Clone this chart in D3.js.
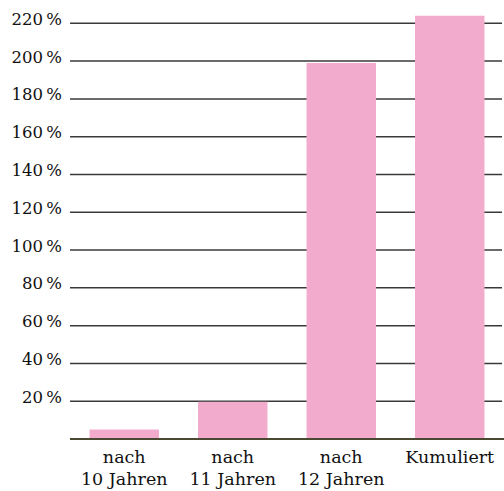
<!DOCTYPE html>
<html><head><meta charset="utf-8">
<script src="https://cdn.jsdelivr.net/npm/d3@7"></script>
<style>body{margin:0;background:#fff}svg{display:block}</style>
</head><body>
<svg id="c" width="504" height="491"></svg>
<script>
const categories = [["nach","10 Jahren"],["nach","11 Jahren"],["nach","12 Jahren"],["Kumuliert"]];
const values = [5, 19.7, 199, 224];
const tickValues = [20,40,60,80,100,120,140,160,180,200,220];
const tickLabels = tickValues.map(v => v + "\u2009%");

const svg = d3.select("#c");
const font = "'DejaVu Serif', serif";
const x = d3.scaleBand().domain(d3.range(categories.length)).range([70, 504]).paddingInner(0.36).paddingOuter(0.18);
const y = d3.scaleLinear().domain([0, 220]).range([439, 23.3]);

// gridlines
svg.append("g").selectAll("line").data(tickValues).join("line")
  .attr("x1", 70).attr("x2", 502)
  .attr("y1", d => y(d)).attr("y2", d => y(d))
  .attr("stroke", "#3a3a3a").attr("stroke-width", 1.5);

// tick labels
svg.append("g").selectAll("text").data(tickValues).join("text")
  .attr("x", 62).attr("y", d => y(d) + 1.5)
  .attr("text-anchor", "end")
  .attr("font-family", font).attr("font-size", 16.5).attr("fill", "#111")
  .text((d,i) => tickLabels[i]);

// bars
svg.append("g").selectAll("rect").data(values).join("rect")
  .attr("x", (d,i) => x(i)).attr("width", x.bandwidth())
  .attr("y", d => y(d)).attr("height", d => y(0) - y(d))
  .attr("fill", "#f2abcd");

// axis baseline
svg.append("line").attr("x1", 70).attr("x2", 504).attr("y1", y(0)).attr("y2", y(0))
  .attr("stroke", "#4a4a32").attr("stroke-width", 2);

// category labels
const cg = svg.append("g");
categories.forEach((lines, i) => {
  const t = cg.append("text").attr("text-anchor", "middle")
    .attr("font-family", font).attr("font-size", 17.5).attr("fill", "#111");
  lines.forEach((ln, j) => {
    t.append("tspan").attr("x", x(i) + x.bandwidth()/2).attr("y", 463.3 + j*21.7).text(ln);
  });
});
</script>
</body></html>
